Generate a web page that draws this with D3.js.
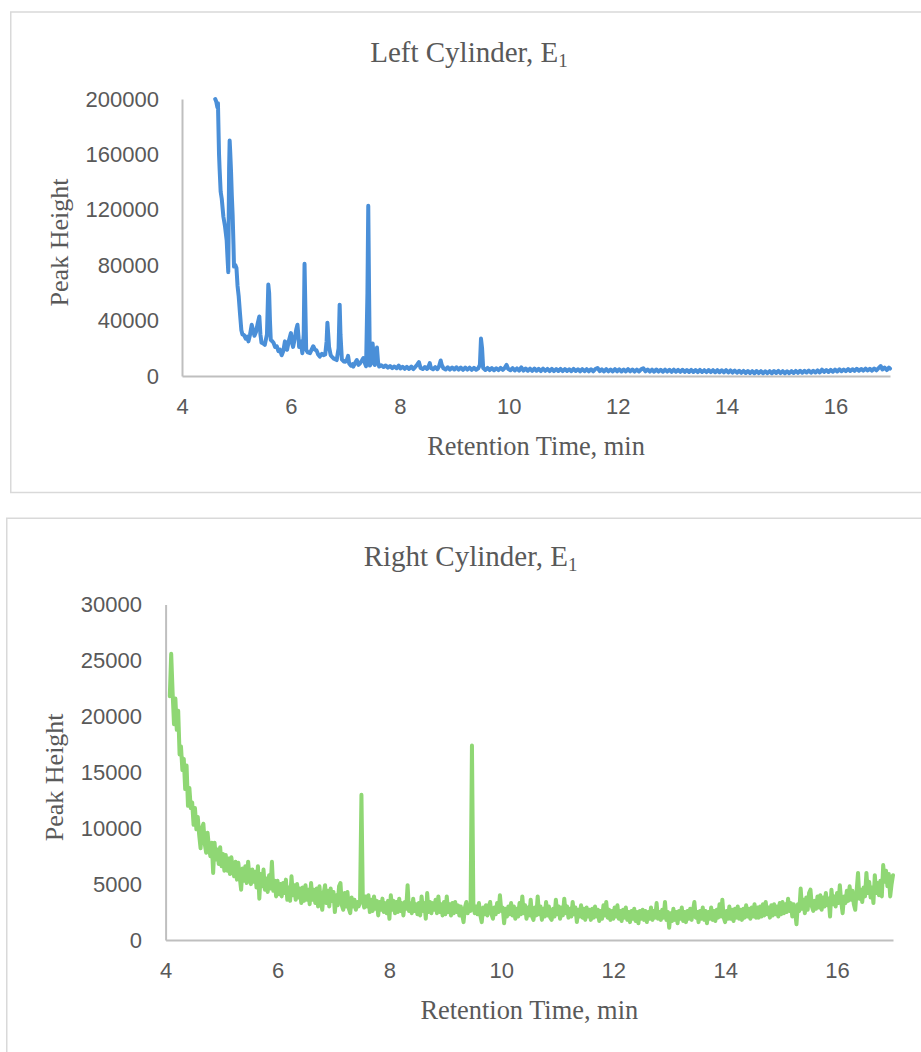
<!DOCTYPE html>
<html>
<head>
<meta charset="utf-8">
<script src="https://cdn.jsdelivr.net/npm/d3@7"></script>
<style>
  body { margin: 0; background: #fff; }
  svg { display: block; }
  .title, .axis-title { font-family: "Liberation Serif", "Times New Roman", serif; fill: #595959; }
  .axis text { font-family: "Liberation Sans", Arial, sans-serif; fill: #595959; }
  .axis .domain { stroke: #bfbfbf; stroke-width: 2; }
</style>
</head>
<body>
<script>
/* =======================================================================
   Chromatograms, Left / Right cylinder
   ======================================================================= */

/* Data
======================================================================= */
var timeTicks = [4, 6, 8, 10, 12, 14, 16],
    leftHeightTicks = [0, 40000, 80000, 120000, 160000, 200000],
    rightHeightTicks = [0, 5000, 10000, 15000, 20000, 25000, 30000];

// Left cylinder: [retention time (min), peak height]
var leftTrace = [
  [4.61,200000],[4.63,198000],[4.65,194000],[4.66,197000],[4.68,160000],[4.69,150000],[4.71,133000],[4.73,128000],
  [4.76,115000],[4.79,108000],[4.82,98000],[4.84,82000],[4.85,75000],[4.865,150000],[4.875,170000],[4.885,162000],
  [4.90,148000],[4.915,130000],[4.93,116000],[4.945,95000],[4.955,79000],[4.98,80000],[5.00,78000],[5.02,65000],
  [5.04,58000],[5.065,45000],[5.09,33000],[5.11,30000],[5.14,29500],[5.17,27000],[5.20,28500],[5.22,25000],
  [5.25,30000],[5.28,37000],[5.30,34000],[5.33,29000],[5.36,32000],[5.39,38000],[5.42,43000],[5.44,30000],
  [5.46,24000],[5.49,23500],[5.52,22500],[5.56,30000],[5.585,66000],[5.60,60000],[5.615,40000],[5.63,26000],
  [5.66,25000],[5.68,24000],[5.71,21000],[5.74,21500],[5.77,18000],[5.80,19000],[5.83,15000],[5.86,18000],
  [5.89,25000],[5.91,20000],[5.93,19000],[5.96,25000],[6.00,31000],[6.02,24000],[6.04,21000],[6.07,27000],
  [6.10,34000],[6.12,37000],[6.14,28000],[6.15,21000],[6.18,25000],[6.21,16500],[6.235,30000],[6.25,81000],
  [6.265,50000],[6.28,19000],[6.31,17000],[6.35,16500],[6.38,19000],[6.41,21500],[6.44,19000],[6.47,18500],
  [6.50,15500],[6.53,14000],[6.57,16000],[6.60,15000],[6.63,15500],[6.655,25000],[6.67,38500],[6.685,30000],
  [6.70,21000],[6.73,15000],[6.75,14000],[6.79,12500],[6.84,11500],[6.875,20000],[6.895,51500],[6.91,30000],
  [6.935,12000],[6.97,10500],[7.00,10300],[7.03,12000],[7.05,14500],[7.07,9000],[7.10,7500],[7.13,8500],
  [7.145,6700],[7.18,9500],[7.21,11500],[7.24,8000],[7.27,9200],[7.30,11000],[7.33,13000],[7.36,9000],
  [7.38,7000],[7.405,60000],[7.42,123000],[7.435,60000],[7.45,7500],[7.47,9000],[7.50,23500],[7.52,14000],
  [7.54,8000],[7.565,15000],[7.58,20500],[7.60,10000],[7.62,6800],[7.66,7800],[7.70,6500],[7.74,7600],
  [7.78,6000],[7.82,7200],[7.86,5700],[7.90,6900],[7.94,5600],[7.98,7500],[8.01,5400],[8.05,6700],
  [8.09,5200],[8.13,6600],[8.17,5100],[8.21,6800],[8.25,5000],[8.29,6900],[8.32,8300],[8.35,10000],
  [8.38,5800],[8.42,5000],[8.46,6500],[8.50,5100],[8.53,7200],[8.55,9300],[8.57,5800],[8.61,4900],
  [8.65,6400],[8.69,4900],[8.72,7000],[8.75,11200],[8.77,8000],[8.80,5600],[8.84,4700],[8.88,6300],
  [8.92,4600],[8.96,6100],[9.00,4700],[9.04,6300],[9.08,4600],[9.12,6100],[9.16,4500],[9.20,6100],
  [9.24,4600],[9.28,6000],[9.32,4400],[9.36,5900],[9.40,4500],[9.44,5600],[9.47,8000],[9.49,27000],
  [9.51,20000],[9.53,5800],[9.57,4400],[9.61,5800],[9.65,4300],[9.69,5700],[9.73,4200],[9.77,5600],
  [9.81,4300],[9.85,5900],[9.89,4400],[9.93,6100],[9.96,8000],[9.99,5000],[10.03,4200],[10.07,5700],
  [10.11,4000],[10.15,5500],[10.19,3900],[10.23,6200],[10.27,3900],[10.31,5400],[10.35,3800],[10.39,5300],
  [10.43,3700],[10.47,5400],[10.51,3800],[10.55,5200],[10.59,3600],[10.63,5300],[10.67,3700],[10.71,5100],
  [10.75,3600],[10.79,5200],[10.83,3500],[10.87,5000],[10.91,3600],[10.95,5100],[10.99,3500],[11.03,5000],
  [11.07,3600],[11.11,4900],[11.15,3500],[11.19,5100],[11.23,3600],[11.27,4900],[11.31,3400],[11.35,5000],
  [11.39,3500],[11.43,4900],[11.47,3400],[11.51,4800],[11.55,3400],[11.59,5000],[11.63,5800],[11.67,3500],
  [11.71,4800],[11.75,3300],[11.79,4900],[11.83,3400],[11.87,4700],[11.91,3300],[11.95,4900],[11.99,3400],
  [12.03,4800],[12.07,3300],[12.11,4700],[12.15,3300],[12.19,4900],[12.23,3400],[12.27,4700],[12.31,3200],
  [12.35,4600],[12.39,3300],[12.43,4800],[12.47,5600],[12.51,3400],[12.55,4700],[12.59,3200],[12.63,4600],
  [12.67,3100],[12.71,4700],[12.75,3200],[12.79,4500],[12.83,3100],[12.87,4600],[12.91,3200],[12.95,4500],
  [12.99,3000],[13.03,4600],[13.07,3100],[13.11,4400],[13.15,3000],[13.19,4500],[13.23,3000],[13.27,4300],
  [13.31,2900],[13.35,4400],[13.39,2900],[13.43,4300],[13.47,2800],[13.51,4400],[13.55,2900],[13.59,4200],
  [13.63,2800],[13.67,4300],[13.71,2800],[13.75,4200],[13.79,2700],[13.83,4200],[13.87,2700],[13.91,4100],
  [13.95,2600],[13.99,4200],[14.03,2600],[14.07,4000],[14.11,2500],[14.15,3900],[14.19,2400],[14.23,3800],
  [14.27,2300],[14.31,3700],[14.35,2200],[14.39,3600],[14.43,2100],[14.47,3500],[14.51,2000],[14.55,3600],
  [14.59,2100],[14.63,3500],[14.67,2000],[14.71,3400],[14.75,2100],[14.79,3500],[14.83,2000],[14.87,3600],
  [14.91,2200],[14.95,3700],[14.99,2100],[15.03,3500],[15.07,2000],[15.11,3400],[15.15,2100],[15.19,3500],
  [15.23,2200],[15.27,3700],[15.31,2300],[15.35,3800],[15.39,2400],[15.43,3700],[15.47,2500],[15.51,3900],
  [15.55,2400],[15.59,3800],[15.63,2500],[15.67,4000],[15.71,2600],[15.75,4600],[15.79,3000],[15.83,4300],
  [15.87,2900],[15.91,4400],[15.95,3100],[15.99,4600],[16.03,3300],[16.07,4800],[16.11,3400],[16.15,4700],
  [16.19,3500],[16.23,5000],[16.27,3600],[16.31,4900],[16.35,3700],[16.39,5200],[16.43,3800],[16.47,5100],
  [16.51,3900],[16.55,5300],[16.59,4000],[16.63,5200],[16.67,3900],[16.71,5400],[16.75,4100],[16.79,5700],
  [16.83,7200],[16.86,4700],[16.90,6100],[16.94,4300],[16.98,6000],[17.00,5400]
];

// Right cylinder: detector samples every 0.025 min, from 4.075 min (one row = 0.5 min)
var rightStart = 4.075,
    rightStep = 0.025,
    rightHeights = [
  21800,25600,22200,19300,21600,18800,20500,16600,17300,15200,16200,13500,15600,12000,13600,11800,12300,10300,11800,9900,
  11000,9400,8200,10000,10400,8600,7800,9600,8300,7500,8700,6000,8700,7200,8100,6800,8300,6600,7700,6200,
  7600,6200,7300,5900,7400,6400,5700,7000,5400,6900,5600,4500,6400,5300,6600,5100,7000,5600,5000,6300,
  5200,6100,4700,6600,3700,5900,4800,6300,4500,5500,4300,5800,4600,7000,4400,5300,3900,5300,4100,5000,
  3900,5100,4200,5400,3600,4700,3500,5700,4000,4900,3600,5000,3800,4600,3300,4700,3500,4900,3600,4500,
  3200,5100,3600,4500,3300,4600,3000,4800,3400,2700,4200,4900,3300,4400,3000,4600,3500,4300,2500,4000,
  3100,4800,5100,3100,2700,4200,3000,4300,2800,2400,3800,3000,3600,2700,3400,3000,3400,13000,3500,2900,
  3900,3000,4000,2500,3600,2600,3900,2800,3500,2200,3400,2700,3700,2500,3300,2400,3500,1900,4000,2700,
  3500,2400,3400,2500,3700,2600,3300,2200,3400,2800,4900,2600,3300,2400,3700,2600,3200,2300,3300,2200,
  3900,2600,3300,1900,4200,2500,3400,2400,3300,2700,3600,2400,3900,2500,3200,2200,3400,2300,3900,2500,
  3200,2200,3300,2400,3400,2500,3100,2200,3000,2300,1600,2900,3400,2400,3100,2600,17400,3300,2400,3000,
  2300,3300,2200,1600,2900,2300,3100,2200,3000,3400,2300,1900,2900,2300,3300,2500,4000,2600,2900,1500,
  2800,2100,3000,2300,3300,2200,3000,1900,2800,2100,3300,2300,3900,2400,3100,1900,2900,2200,3600,2100,
  1800,2900,2200,3900,2300,3000,1800,2800,2100,3400,2200,3000,2000,1800,2800,2100,3600,2300,3000,1900,
  2900,2200,3700,2400,3000,2000,2800,2100,3400,2300,2900,1600,2700,2100,3100,2000,2800,1800,2900,2100,
  2700,1800,2800,2000,3000,2100,2700,1700,2600,1900,3100,2200,3400,2000,2700,1800,2600,1900,2900,2100,
  3100,1900,2600,1700,2700,2000,2900,1800,2500,1600,2600,1900,2800,1700,2500,1500,2600,1900,2700,1800,
  2600,1600,2500,1900,2900,1800,2600,2000,3300,1900,2500,1800,2700,2000,3400,1800,2500,1100,2400,1700,
  2800,1800,2500,1500,2600,1900,2900,1700,2500,1600,2600,1900,2800,1800,2600,3400,2000,2500,1600,2600,
  1900,2900,1800,2600,1500,2500,1900,2900,1800,2600,1700,2700,2000,3200,2100,3600,2000,1600,2600,1900,
  3000,1900,2700,1700,2800,2000,3000,1900,2700,1800,2800,2000,3100,2100,2800,1900,2900,2100,3200,2000,
  2900,2000,3000,2100,3200,2200,3400,2300,2900,2000,3100,2200,3200,2300,3000,2100,3300,2300,3400,2400,
  3200,2500,3700,2600,3300,2100,3200,2500,1400,3200,2600,4600,2800,3600,2400,3800,2700,4200,4500,3000,
  2600,3500,2800,3900,2900,4000,2700,3800,3000,4200,3100,3700,2100,4500,3200,3900,3000,4200,3300,4900,
  3400,2400,3900,3300,4400,3500,4800,3600,4400,3200,2700,4400,6000,3700,4500,3400,4700,3900,6000,4200,
  5200,3800,4700,3300,5800,4200,5100,4000,5300,3900,6700,5200,6200,4800,5900,3900,5000,5800
];

/* Layout
======================================================================= */
var W = 921, H = 1052,
    rightTrace = rightHeights.map(function(v, i) { return [rightStart + i * rightStep, v]; }),
    charts = [
      { // top chart
        title: 'Left Cylinder, E', sub: '1',
        data: leftTrace, yTicks: leftHeightTicks, yMax: 200000, color: '#4a8fd8',
        box: [10.75, 12, 1000, 480.5], // x, y, w, h of the chart border
        plot: [182, 890, 99, 376], // left, right, top, bottom
        titleX: 469, titleY: 62, yTitleX: 68, pad: 23
      },
      { // bottom chart
        title: 'Right Cylinder, E', sub: '1',
        data: rightTrace, yTicks: rightHeightTicks, yMax: 30000, color: '#8fd774',
        box: [6.75, 518.25, 1000, 600],
        plot: [165.6, 893, 604.6, 940],
        titleX: 470.5, titleY: 566, yTitleX: 63, pad: 23.6
      }
    ];

var svg = d3.select('body').append('svg')
    .attr('width', W)
    .attr('height', H);

/* Draw one chart
======================================================================= */
function drawChart(c) {

  var g = svg.append('g');

  // Light grey frame around the chart
  g.append('rect')
    .attr('x', c.box[0]).attr('y', c.box[1])
    .attr('width', c.box[2]).attr('height', c.box[3])
    .attr('fill', 'none')
    .attr('stroke', '#d9d9d9')
    .attr('stroke-width', 1.5);

  var x = d3.scaleLinear().domain([4, 17]).range([c.plot[0], c.plot[1]]),
      y = d3.scaleLinear().domain([0, c.yMax]).range([c.plot[3], c.plot[2]]);

  // X axis, no tick marks (Excel style)
  g.append('g')
    .attr('class', 'axis')
    .attr('transform', 'translate(0,' + c.plot[3] + ')')
    .call(d3.axisBottom(x).tickValues(timeTicks).tickSize(0).tickPadding(22.4).tickFormat(d3.format('d')))
    .selectAll('text').style('font-size', '22px');

  // Y axis
  g.append('g')
    .attr('class', 'axis')
    .attr('transform', 'translate(' + c.plot[0] + ',0)')
    .call(d3.axisLeft(y).tickValues(c.yTicks).tickSize(0).tickPadding(c.pad).tickFormat(d3.format('d')))
    .selectAll('text').style('font-size', '22px');

  g.selectAll('.axis .domain').attr('stroke', '#bfbfbf');

  // The trace
  var line = d3.line()
      .x(function(d) { return x(d[0]); })
      .y(function(d) { return y(d[1]); });

  g.append('path')
    .datum(c.data)
    .attr('d', line)
    .attr('fill', 'none')
    .attr('stroke', c.color)
    .attr('stroke-width', 4)
    .attr('stroke-linejoin', 'round')
    .attr('stroke-linecap', 'round');

  // Title with subscript
  var t = g.append('text')
    .attr('class', 'title')
    .attr('x', c.titleX)
    .attr('y', c.titleY)
    .attr('text-anchor', 'middle')
    .style('font-size', '29px')
    .text(c.title);
  t.append('tspan').attr('dy', 5).style('font-size', '19px').text(c.sub);

  // Axis titles
  g.append('text')
    .attr('class', 'axis-title')
    .attr('x', (c.plot[0] + c.plot[1]) / 2)
    .attr('y', c.plot[3] + 79)
    .attr('text-anchor', 'middle')
    .style('font-size', '26.4px')
    .text('Retention Time, min');

  g.append('text')
    .attr('class', 'axis-title')
    .attr('transform', 'translate(' + c.yTitleX + ',' + ((c.plot[2] + c.plot[3]) / 2 + 5) + ') rotate(-90)')
    .attr('text-anchor', 'middle')
    .style('font-size', '26px')
    .text('Peak Height');
}

charts.forEach(drawChart);
</script>
</body>
</html>
